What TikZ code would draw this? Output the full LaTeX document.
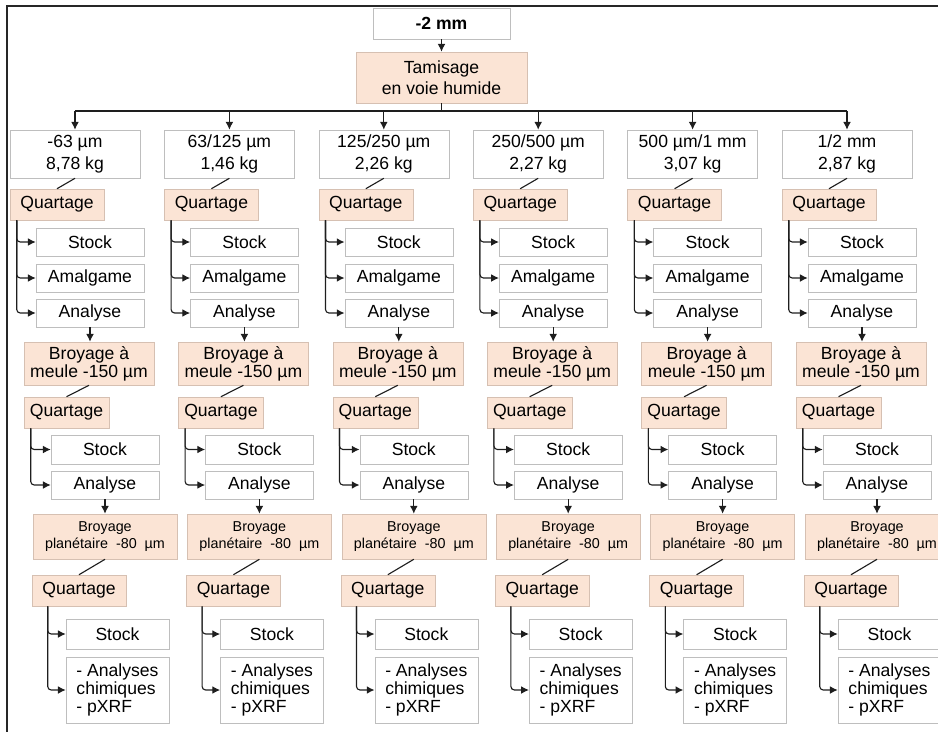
\documentclass[tikz,border=0pt]{standalone}
\usepackage{fontspec}
\setmainfont{Liberation Sans}
\definecolor{peach}{RGB}{251,228,213}
\definecolor{peachline}{RGB}{214,192,178}
\definecolor{boxline}{RGB}{190,190,190}
\definecolor{linkcol}{RGB}{30,30,30}
\usetikzlibrary{arrows.meta, positioning}

\begin{document}
\begin{tikzpicture}[x=0.025cm, y=-0.025cm,
      wbox/.style={draw=boxline, fill=white, inner sep=0pt, align=center,
          font=\fontsize{12.5}{12.8}\selectfont},
      pbox/.style={wbox, draw=peachline, fill=peach},
      arr/.style={-{Latex[length=5.5pt,width=5.5pt]}, linkcol, line width=0.8pt},
      branch/.style={arr, rounded corners=2.5pt},
      link/.style={linkcol, line width=0.8pt},
      frame/.style={draw=black!85, line width=1.5pt}
    ]
    \useasboundingbox (0,0) rectangle (938,731);
    \clip (0,0) rectangle (938,731);
    \draw[frame] (7,760) -- (7,6) -- (960,6);

    \node[wbox, minimum width=3.425cm, minimum height=0.775cm,
          font=\fontsize{12.5}{12.8}\selectfont\bfseries] (top) at (441.5,23.5) {-2 mm};
    \node[pbox, minimum width=4.275cm, minimum height=1.275cm,
          font=\fontsize{12.5}{15}\selectfont] (tam) at (441.5,77.5) {Tamisage\\en voie humide};
    \draw[arr] (top) -- (tam);
    \coordinate (bus) at (0,111);

    \foreach \i/\sz/\kg in {1/{-63 µm}/{8,78 kg}, 2/{63/125 µm}/{1,46 kg},
        3/{125/250 µm}/{2,26 kg}, 4/{250/500 µm}/{2,27 kg},
        5/{500 µm/1 mm}/{3,07 kg}, 6/{1/2 mm}/{2,87 kg}}{
      \pgfmathsetmacro{\dx}{154.4*(\i-1)}
      \begin{scope}[xshift={\dx*0.025cm}]
        \node[wbox, minimum width=3.25cm, minimum height=1.2cm,
              font=\fontsize{12.5}{15.4}\selectfont] (sz\i) at (75,154) {\sz\\\kg};
        \node[pbox, minimum width=2.35cm, minimum height=0.775cm] (qa\i) at (57,204.5) {Quartage};
        \node[wbox, minimum width=2.7cm, minimum height=0.7cm] (sta\i) at (90,242) {Stock};
        \node[wbox, minimum width=2.7cm, minimum height=0.7cm] (am\i) at (90,278) {Amalgame};
        \node[wbox, minimum width=2.7cm, minimum height=0.7cm] (ana\i) at (90,313) {Analyse};
        \node[pbox, minimum width=3.25cm, minimum height=1.075cm] (bm\i) at (89,363.5) {Broyage à\\meule -150 µm};
        \node[pbox, minimum width=2.125cm, minimum height=0.775cm] (qb\i) at (66.5,412.5) {Quartage};
        \node[wbox, minimum width=2.7cm, minimum height=0.725cm] (stb\i) at (105,449.5) {Stock};
        \node[wbox, minimum width=2.7cm, minimum height=0.7cm] (anb\i) at (105,485) {Analyse};
        \node[pbox, minimum width=3.6cm, minimum height=1.125cm,
              font=\fontsize{10.2}{12.6}\selectfont] (bp\i) at (105,536.5) {Broyage\\planétaire~~-80~~µm};
        \node[pbox, minimum width=2.35cm, minimum height=0.775cm] (qc\i) at (79,590.5) {Quartage};
        \node[wbox, minimum width=2.575cm, minimum height=0.75cm] (stc\i) at (117.5,634) {Stock};
        \node[wbox, minimum width=2.575cm, minimum height=1.65cm, align=left,
              font=\fontsize{12.5}{13}\selectfont] (anc\i) at (117.5,690) {- Analyses\\chimiques\\- pXRF};

        \draw[arr] (sz\i.north |- bus) -- (sz\i.north);
        \draw[link] (sz\i.south) -- (qa\i.north);
        \draw[branch] ([xshift=0.175cm]qa\i.south west) |- (sta\i.west);
        \draw[branch] ([xshift=0.175cm]qa\i.south west) |- (am\i.west);
        \draw[branch] ([xshift=0.175cm]qa\i.south west) |- (ana\i.west);
        \draw[arr] (ana\i.south) -- (ana\i.south |- bm\i.north);
        \draw[link] (bm\i.south) -- (qb\i.north);
        \draw[branch] ([xshift=0.175cm]qb\i.south west) |- (stb\i.west);
        \draw[branch] ([xshift=0.175cm]qb\i.south west) |- (anb\i.west);
        \draw[arr] (anb\i.south) -- (anb\i.south |- bp\i.north);
        \draw[link] (bp\i.south) -- (qc\i.north);
        \draw[branch] ([xshift=0.4cm]qc\i.south west) |- (stc\i.west);
        \draw[branch] ([xshift=0.4cm]qc\i.south west) |- (anc\i.west);
      \end{scope}
    }
    \draw[link] (tam.south) -- (tam.south |- bus);
    \draw[link] (sz1.north |- bus) -- (sz6.north |- bus);
  \end{tikzpicture}
\end{document}
